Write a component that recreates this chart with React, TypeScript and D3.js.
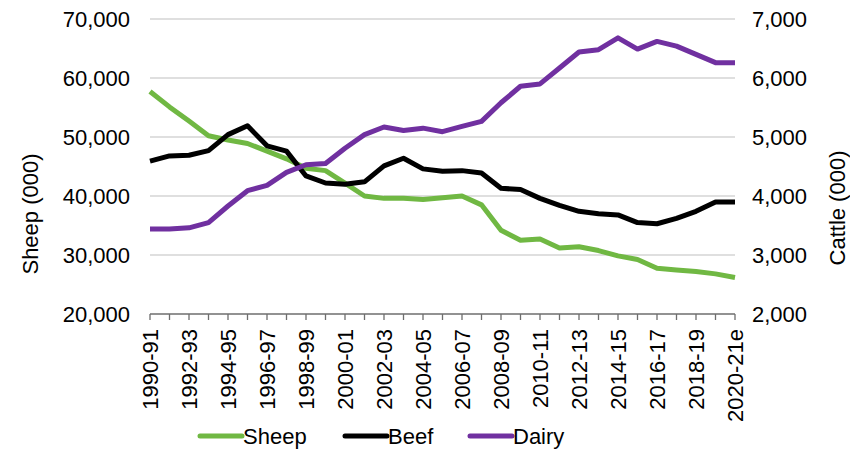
import React from "react";
import * as d3 from "d3";

const categories = [
  "1990-91", "1991-92", "1992-93", "1993-94", "1994-95", "1995-96", "1996-97", "1997-98",
  "1998-99", "1999-00", "2000-01", "2001-02", "2002-03", "2003-04", "2004-05", "2005-06",
  "2006-07", "2007-08", "2008-09", "2009-10", "2010-11", "2011-12", "2012-13", "2013-14",
  "2014-15", "2015-16", "2016-17", "2017-18", "2018-19", "2019-20", "2020-21e",
];

// left axis, thousands of head
const sheep = [
  57700, 55100, 52700, 50200, 49500, 48900, 47600, 46300, 44700, 44300, 42200, 40000,
  39600, 39600, 39400, 39700, 40000, 38500, 34200, 32500, 32700, 31200, 31400, 30750,
  29850, 29250, 27750, 27450, 27200, 26800, 26200,
];

// right axis, thousands of head
const beef = [
  4590, 4680, 4690, 4770, 5040, 5190, 4850, 4760, 4340, 4220, 4200, 4240, 4510, 4640,
  4460, 4420, 4430, 4390, 4130, 4110, 3960, 3840, 3740, 3700, 3680, 3550, 3530, 3620,
  3740, 3900, 3900,
];

const dairy = [
  3440, 3440, 3460, 3550, 3830, 4090, 4180, 4400, 4530, 4550, 4810, 5040, 5170, 5110,
  5150, 5090, 5180, 5265, 5580, 5860, 5900, 6170, 6440, 6480, 6680, 6490, 6620, 6540,
  6400, 6260, 6260,
];

const leftTicks = [20000, 30000, 40000, 50000, 60000, 70000];
const rightTicks = [2000, 3000, 4000, 5000, 6000, 7000];
const xLabels = categories.filter((_, i) => i % 2 === 0);

const width = 850;
const height = 449;
const plot = { left: 150, right: 735, top: 19, bottom: 314 };
const font = "'Liberation Sans', Arial, sans-serif";

const App: React.FC = () => {
  const x = d3.scalePoint<string>().domain(categories).range([plot.left, plot.right]);
  const yLeft = d3.scaleLinear().domain([20000, 70000]).range([plot.bottom, plot.top]);
  const yRight = d3.scaleLinear().domain([2000, 7000]).range([plot.bottom, plot.top]);
  const fmt = d3.format(",");

  const lineLeft = d3
    .line<number>()
    .x((_, i) => x(categories[i]) as number)
    .y((d) => yLeft(d));
  const lineRight = d3
    .line<number>()
    .x((_, i) => x(categories[i]) as number)
    .y((d) => yRight(d));

  const series = [
    { name: "Sheep", color: "#70b843", d: lineLeft(sheep), lx: 200 },
    { name: "Beef", color: "#000000", d: lineRight(beef), lx: 345 },
    { name: "Dairy", color: "#7030a0", d: lineRight(dairy), lx: 470 },
  ];

  return (
    <svg
      width={width}
      height={height}
      style={{ position: "absolute", left: 0, top: 0, background: "#fff" }}
      fontFamily={font}
    >
      {/* gridlines */}
      {leftTicks.slice(1).map((t) => (
        <line
          key={t}
          x1={plot.left}
          x2={plot.right}
          y1={yLeft(t)}
          y2={yLeft(t)}
          stroke="#d4d4d4"
          strokeWidth={1.3}
        />
      ))}

      {/* x axis */}
      <line x1={plot.left} x2={plot.right} y1={plot.bottom} y2={plot.bottom} stroke="#6e6e6e" strokeWidth={1.3} />
      {categories.map((c) => (
        <line key={c} x1={x(c)} x2={x(c)} y1={plot.bottom} y2={plot.bottom + 6} stroke="#6e6e6e" strokeWidth={1.3} />
      ))}
      {xLabels.map((c) => (
        <text
          key={c}
          transform={`translate(${x(c)},${plot.bottom + 15}) rotate(-90)`}
          textAnchor="end"
          dy="0.35em"
          fontSize={22}
          fill="#000"
        >
          {c}
        </text>
      ))}

      {/* left axis labels */}
      {leftTicks.map((t) => (
        <text key={t} x={130} y={yLeft(t)} dy="0.35em" textAnchor="end" fontSize={22} fill="#000">
          {fmt(t)}
        </text>
      ))}
      {/* right axis labels */}
      {rightTicks.map((t) => (
        <text key={t} x={752} y={yRight(t)} dy="0.35em" textAnchor="start" fontSize={22} fill="#000">
          {fmt(t)}
        </text>
      ))}

      <text transform="translate(30,214) rotate(-90)" textAnchor="middle" dy="0.35em" fontSize={22}>
        Sheep (000)
      </text>
      <text transform="translate(837,208) rotate(-90)" textAnchor="middle" dy="0.35em" fontSize={22}>
        Cattle (000)
      </text>

      {/* series */}
      {series.map((s) => (
        <path key={s.name} d={s.d ?? ""} fill="none" stroke={s.color} strokeWidth={5} strokeLinejoin="round" />
      ))}

      {/* legend */}
      {series.map((s) => (
        <g key={s.name} transform={`translate(${s.lx},436)`}>
          <line x1={0} x2={42} y1={0} y2={0} stroke={s.color} strokeWidth={5} strokeLinecap="round" />
          <text x={43} y={0} dy="0.35em" fontSize={22}>
            {s.name}
          </text>
        </g>
      ))}
    </svg>
  );
};

export default App;
